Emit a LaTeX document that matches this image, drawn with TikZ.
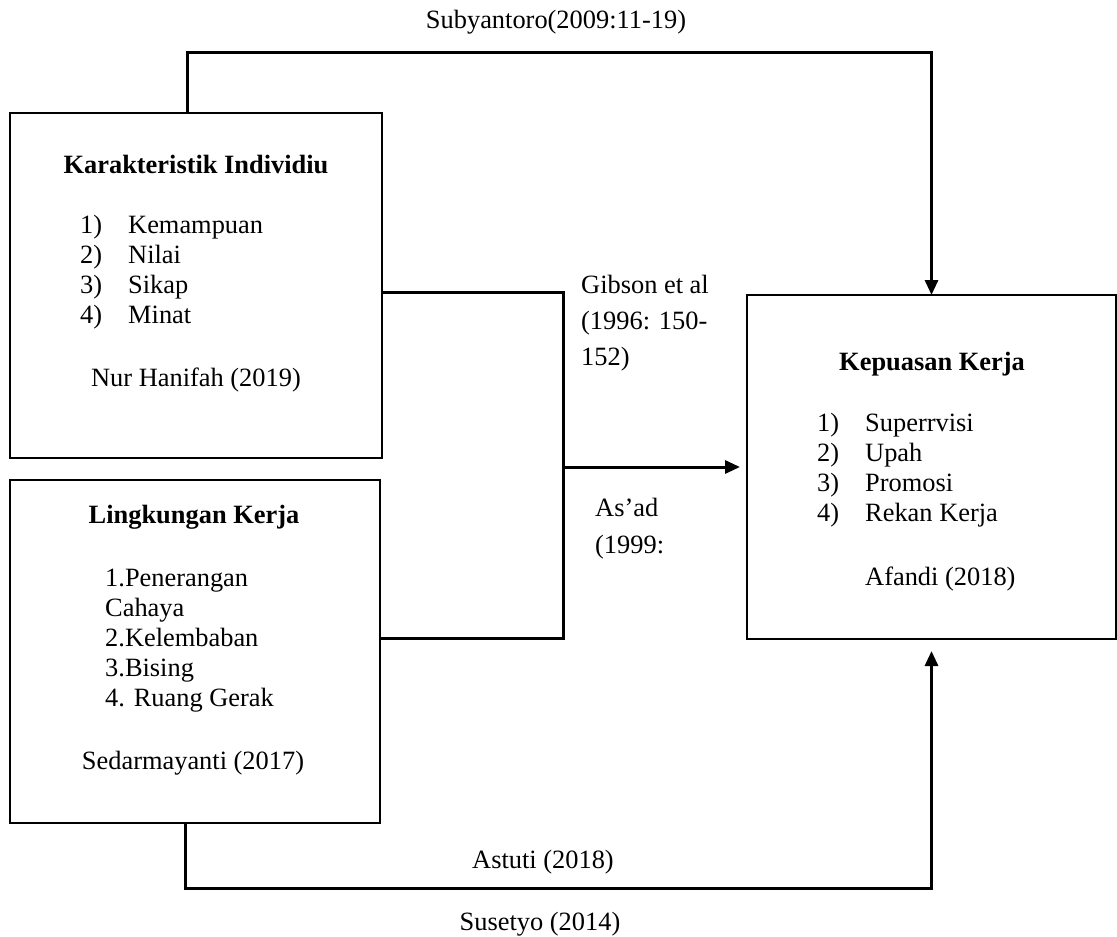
\documentclass[tikz,border=0pt]{standalone}
\usepackage{fontspec}
\setmainfont{Liberation Serif}
\usetikzlibrary{arrows.meta}

\begin{document}
\begin{tikzpicture}[x=1pt,y=-1pt,
    every node/.style={font=\fontsize{26.4}{30}\selectfont, inner sep=0pt},
    box/.style={draw, line width=2.2pt, outer sep=0pt},
    link/.style={line width=3pt},
    arr/.style={link, -{Triangle[length=15pt,width=13pt]}}]
    \useasboundingbox (0,0) rectangle (1117,937);

    % the three boxes
    \node[box, minimum width=372pt, minimum height=345pt] (indiv) at (196,285.5) {};
    \node[box, minimum width=370pt, minimum height=343pt] (lingk) at (195,651.5) {};
    \node[box, minimum width=369pt, minimum height=344pt] (puas) at (931.5,467) {};

    % Karakteristik Individiu
    \node[anchor=base, font=\fontsize{26.4}{30}\selectfont\bfseries] (indivT) at (196,173) {Karakteristik Individiu};
    \foreach \n/\t [count=\i] in {1)/Kemampuan, 2)/Nilai, 3)/Sikap, 4)/Minat}{
        \node[anchor=base west] (indivN\i) at (80,203+30*\i) {\n};
        \node[anchor=base west] (indivI\i) at (128,203+30*\i) {\t};
    }
    \node[anchor=base] (indivS) at (196,386) {Nur Hanifah (2019)};

    % Lingkungan Kerja
    \node[anchor=base, font=\fontsize{26.4}{30}\selectfont\bfseries] (lingkT) at (194,523) {Lingkungan Kerja};
    \node[anchor=base west, align=left] (lingkL) at (105,706)
        {1.Penerangan\\Cahaya\\2.Kelembaban\\3.Bising\\4. Ruang Gerak};
    \node[anchor=base] (lingkS) at (193,769) {Sedarmayanti (2017)};

    % Kepuasan Kerja
    \node[anchor=base, font=\fontsize{26.4}{30}\selectfont\bfseries] (puasT) at (932,370) {Kepuasan Kerja};
    \foreach \n/\t [count=\i] in {1)/Superrvisi, 2)/Upah, 3)/Promosi, 4)/Rekan Kerja}{
        \node[anchor=base west] (puasN\i) at (817,401+30*\i) {\n};
        \node[anchor=base west] (puasI\i) at (865,401+30*\i) {\t};
    }
    \node[anchor=base west] (puasS) at (865,585) {Afandi (2018)};

    % connectors
    \coordinate (topL) at (187,52);
    \coordinate (botL) at (185,888);
    \coordinate (midT) at (563,292);
    \coordinate (midB) at (563,638);
    \coordinate (midA) at (563,467);
    \draw[arr] (indiv.north -| topL) -- (topL) -| (puas.north);
    \draw[link] (indiv.east |- midT) -- (midT) -- (midB) -- (lingk.east |- midB);
    \draw[arr, shorten >=7pt] (midA) -- (puas.west);
    \draw[arr, shorten >=12pt] (lingk.south -| botL) -- (botL) -| (puas.south);

    % connector labels
    \node[anchor=base] (subyL) at (556,28) {Subyantoro(2009:11-19)};
    \node[anchor=base west, align=left, font=\fontsize{26.4}{36}\selectfont] (gibL) at (581,365)
        {Gibson et al\\(1996: 150-\\152)};
    \node[anchor=base west, align=left, font=\fontsize{26.4}{37}\selectfont] (asadL) at (595,553)
        {As’ad\\(1999:};
    \node[anchor=base] (astL) at (543,868) {Astuti (2018)};
    \node[anchor=base] (susL) at (540,930) {Susetyo (2014)};
\end{tikzpicture}
\end{document}
